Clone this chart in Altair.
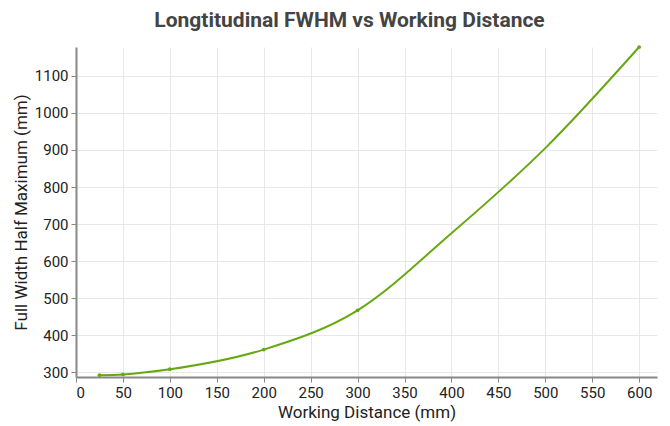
import altair as alt
import pandas as pd

# line samples (mm)
line_x = [25, 50, 100, 200, 300, 400, 500, 600]
line_y = [292, 294, 308, 361, 467, 675, 905, 1178]
# marked points
pt_x = [25, 50, 100, 200, 300, 600]
pt_y = [292, 294, 308, 361, 467, 1178]

x_ticks = [0, 50, 100, 150, 200, 250, 300, 350, 400, 450, 500, 550, 600]
y_ticks = [300, 400, 500, 600, 700, 800, 900, 1000, 1100]

line_df = pd.DataFrame({"wd": line_x, "fwhm": line_y})
pt_df = pd.DataFrame({"wd": pt_x, "fwhm": pt_y})

color = "#66a812"

xenc = alt.X("wd:Q", title="Working Distance (mm)",
             scale=alt.Scale(domain=[0, 619], nice=False, zero=False),
             axis=alt.Axis(values=x_ticks, format="d"))
yenc = alt.Y("fwhm:Q", title="Full Width Half Maximum (mm)",
             scale=alt.Scale(domain=[287, 1178], nice=False, zero=False),
             axis=alt.Axis(values=y_ticks, format="d"))

line = alt.Chart(line_df).mark_line(color=color, strokeWidth=2, interpolate="monotone").encode(x=xenc, y=yenc)
pts = alt.Chart(pt_df).mark_point(color=color, filled=True, size=14, opacity=1).encode(x=xenc, y=yenc)

chart = (line + pts).properties(
    width=581, height=330,
    title=alt.TitleParams("Longtitudinal FWHM vs Working Distance", fontSize=21, font="Roboto",
                          fontWeight="bold", color="#444444", offset=12, dx=-17),
).configure_axis(
    labelFont="Roboto", labelFontSize=15, labelColor="#222222",
    titleFont="Roboto", titleFontSize=17, titleFontWeight="normal", titleColor="#222222",
    domainColor="#888888", domainWidth=2, tickColor="#888888", tickSize=5,
    gridColor="#e8e8e8", labelPadding=3, titlePadding=4,
).configure_view(stroke=None).properties(padding={"left": 4, "top": 2, "right": 5, "bottom": 5})

chart.save("out.html", embed_options={"renderer": "svg", "actions": False})
